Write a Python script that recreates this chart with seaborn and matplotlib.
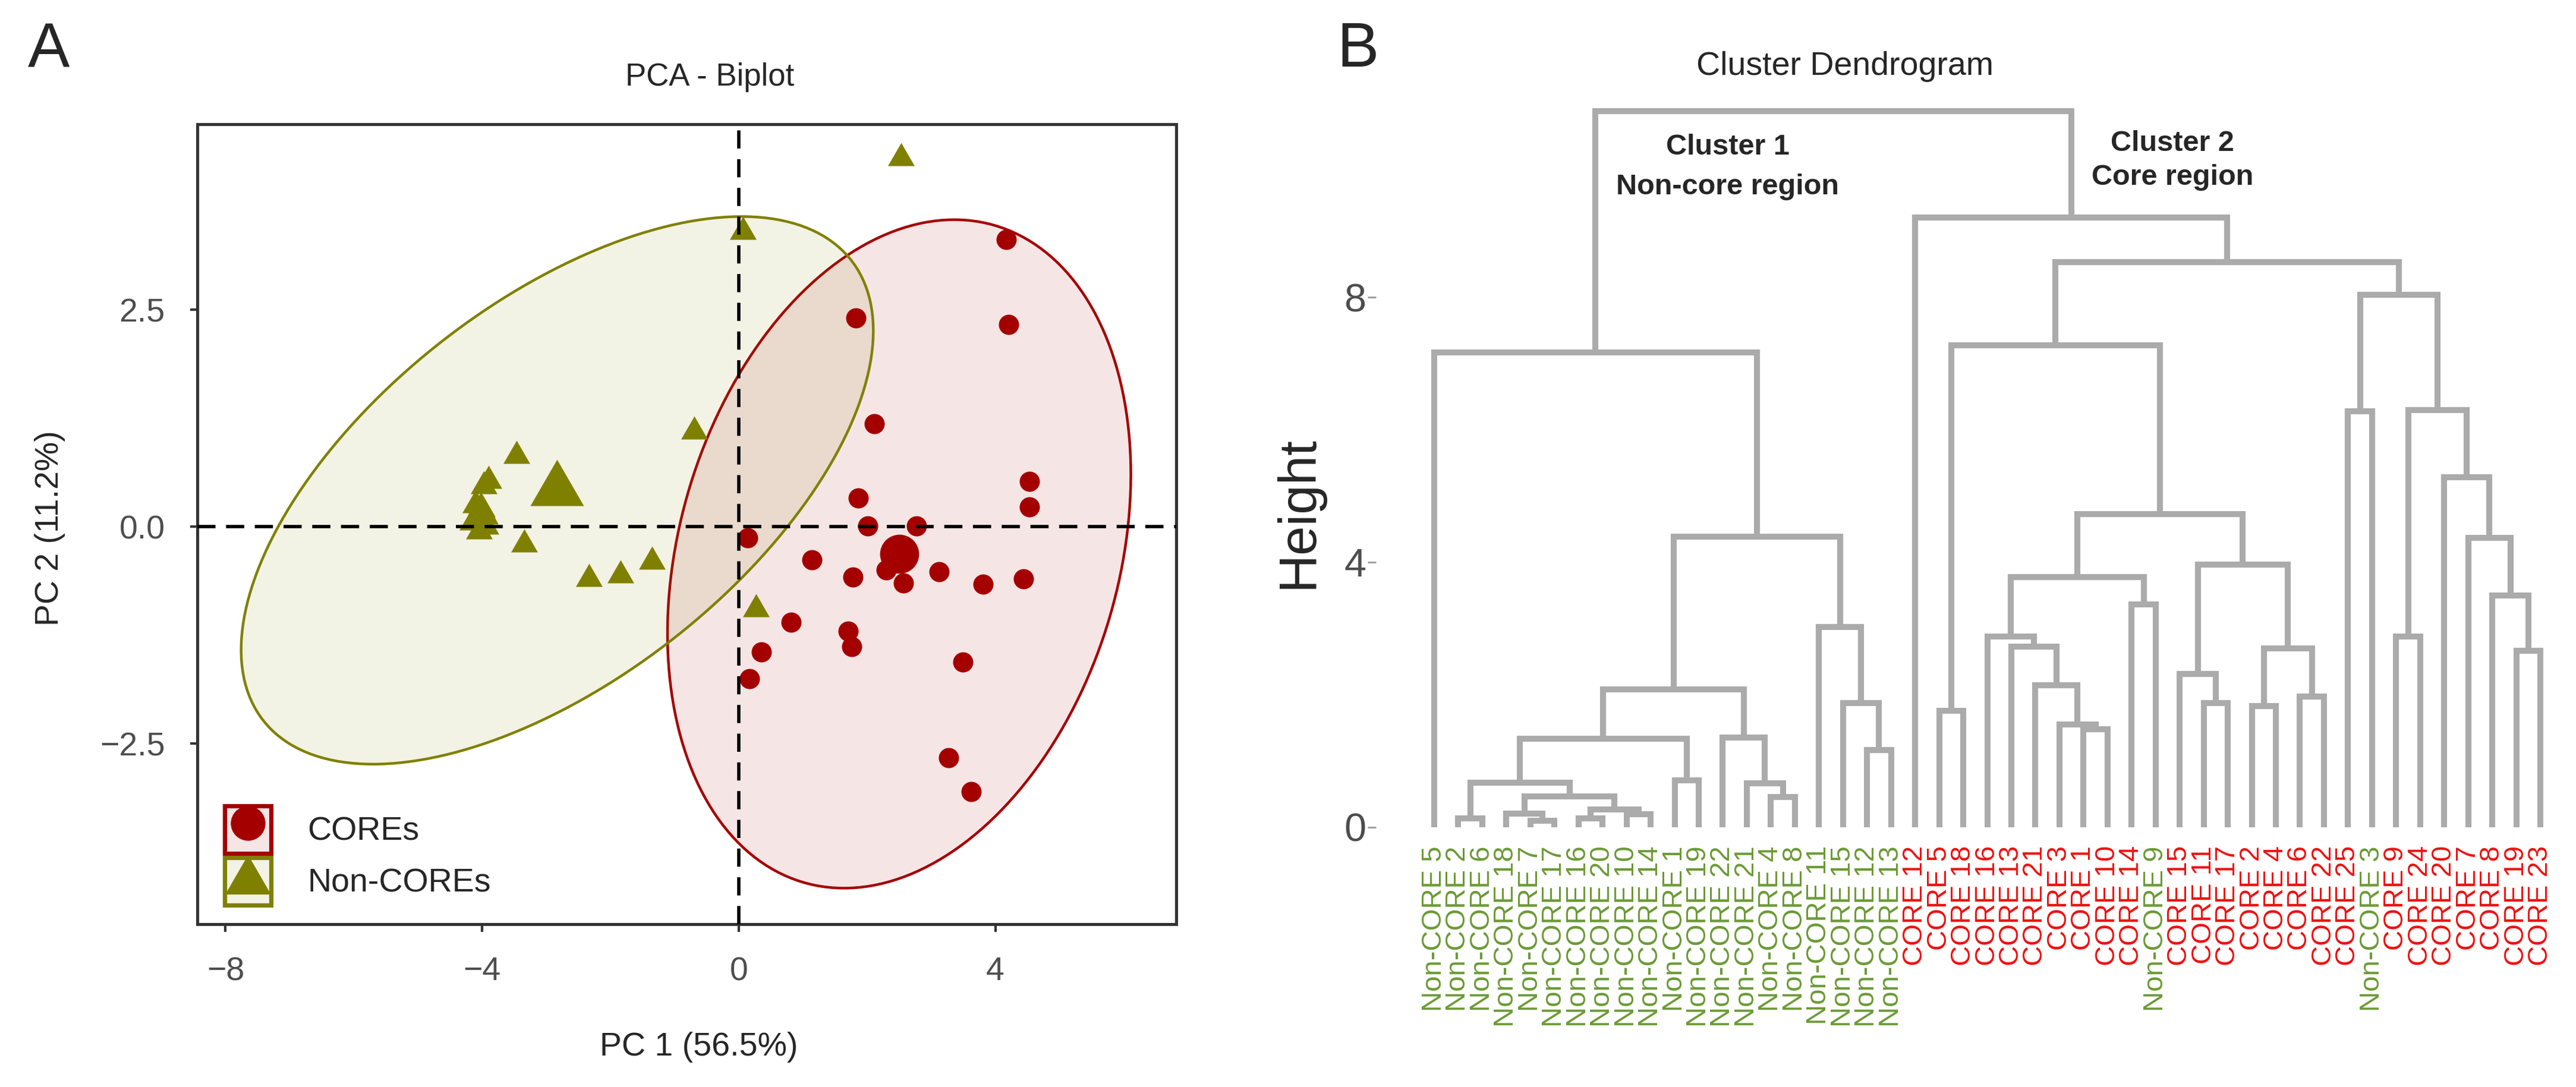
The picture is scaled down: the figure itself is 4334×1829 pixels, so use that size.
import numpy as np
import pandas as pd
import matplotlib
matplotlib.use("Agg")
import matplotlib.pyplot as plt
import seaborn as sns
from matplotlib.path import Path
from matplotlib.patches import Polygon, Patch
from matplotlib.lines import Line2D
from matplotlib.legend_handler import HandlerTuple
from matplotlib.colors import to_rgba

# ---------------- Panel A data (PCA scores) ----------------
core_pc1 = [4.17, 1.83, 4.21, 2.11, 4.53, 4.53, 1.86, 2.01, 2.77, 0.14, 1.14, 1.78, 2.30,
            2.57, 3.12, 3.81, 4.44, 0.82, 0.35, 0.17, 1.71, 1.76, 3.49, 3.27, 3.62]
core_pc2 = [3.31, 2.41, 2.33, 1.19, 0.52, 0.23, 0.33, 0.01, 0.01, -0.13, -0.38, -0.58, -0.50,
            -0.65, -0.52, -0.66, -0.60, -1.10, -1.44, -1.75, -1.20, -1.38, -1.56, -2.66, -3.05]
noncore_pc1 = [-3.46, -3.90, -3.97, -4.10, -4.15, -4.05, -3.95, -3.34, -2.33, -1.84, -1.35,
               2.53, 0.07, -0.69, 0.27, -4.00, -4.05, -3.98, -4.02, -3.96, -4.00, -3.99]
noncore_pc2 = [0.82, 0.53, 0.47, 0.25, 0.05, -0.05, 0.00, -0.20, -0.60, -0.56, -0.40,
               4.25, 3.40, 1.10, -0.95, 0.20, 0.10, 0.15, 0.22, 0.12, 0.18, 0.16]
group_names = ["COREs", "Non-COREs"]
x_ticks = [-8, -4, 0, 4]
y_ticks = [-2.5, 0.0, 2.5]

# ---------------- Panel B data (hierarchical clustering) ----------------
leaf_labels = [
    "Non-CORE 5", "Non-CORE 2", "Non-CORE 6", "Non-CORE 18", "Non-CORE 7", "Non-CORE 17",
    "Non-CORE 16", "Non-CORE 20", "Non-CORE 10", "Non-CORE 14", "Non-CORE 1", "Non-CORE 19",
    "Non-CORE 22", "Non-CORE 21", "Non-CORE 4", "Non-CORE 8", "Non-CORE 11", "Non-CORE 15",
    "Non-CORE 12", "Non-CORE 13",
    "CORE 12", "CORE 5", "CORE 18", "CORE 16", "CORE 13", "CORE 21", "CORE 3", "CORE 1",
    "CORE 10", "CORE 14", "Non-CORE 9", "CORE 15", "CORE 11", "CORE 17", "CORE 2", "CORE 4",
    "CORE 6", "CORE 22", "CORE 25", "Non-CORE 3", "CORE 9", "CORE 24", "CORE 20", "CORE 7",
    "CORE 8", "CORE 19", "CORE 23"]
# merges: (left, right, height); str = leaf, int = index of an earlier merge
merges = [
    ("Non-CORE 2", "Non-CORE 6", 0.13),   # 0
    ("Non-CORE 7", "Non-CORE 17", 0.10),  # 1
    ("Non-CORE 18", 1, 0.21),             # 2
    ("Non-CORE 16", "Non-CORE 20", 0.13), # 3
    ("Non-CORE 10", "Non-CORE 14", 0.20), # 4
    (3, 4, 0.27),                         # 5
    (2, 5, 0.47),                         # 6
    (0, 6, 0.67),                         # 7
    ("Non-CORE 1", "Non-CORE 19", 0.71),  # 8
    (7, 8, 1.34),                         # 9
    ("Non-CORE 4", "Non-CORE 8", 0.46),   # 10
    ("Non-CORE 21", 10, 0.66),            # 11
    ("Non-CORE 22", 11, 1.35),            # 12
    (9, 12, 2.08),                        # 13
    ("Non-CORE 12", "Non-CORE 13", 1.17), # 14
    ("Non-CORE 15", 14, 1.87),            # 15
    ("Non-CORE 11", 15, 3.02),            # 16
    (13, 16, 4.39),                       # 17
    ("Non-CORE 5", 17, 7.17),             # 18
    ("CORE 5", "CORE 18", 1.76),          # 19
    ("CORE 1", "CORE 10", 1.48),          # 20
    ("CORE 3", 20, 1.55),                 # 21
    ("CORE 21", 21, 2.14),                # 22
    ("CORE 13", 22, 2.73),                # 23
    ("CORE 16", 23, 2.88),                # 24
    ("CORE 14", "Non-CORE 9", 3.36),      # 25
    (24, 25, 3.78),                       # 26
    ("CORE 11", "CORE 17", 1.87),         # 27
    ("CORE 15", 27, 2.31),                # 28
    ("CORE 2", "CORE 4", 1.83),           # 29
    ("CORE 6", "CORE 22", 1.97),          # 30
    (29, 30, 2.70),                       # 31
    (28, 31, 3.96),                       # 32
    (26, 32, 4.73),                       # 33
    (19, 33, 7.27),                       # 34
    ("CORE 25", "Non-CORE 3", 6.28),      # 35
    ("CORE 9", "CORE 24", 2.88),          # 36
    ("CORE 19", "CORE 23", 2.66),         # 37
    ("CORE 8", 37, 3.50),                 # 38
    ("CORE 7", 38, 4.37),                 # 39
    ("CORE 20", 39, 5.28),                # 40
    (36, 40, 6.30),                       # 41
    (35, 41, 8.04),                       # 42
    (34, 42, 8.53),                       # 43
    ("CORE 12", 43, 9.20),                # 44
    (18, 44, 10.81),                      # 45
]
height_ticks = [0, 4, 8]

# ---------------- styling ----------------
sns.set_theme(style="white")
plt.rcParams['font.family'] = ['Liberation Sans', 'DejaVu Sans']
plt.rcParams['axes.unicode_minus'] = True

RED = "#A50000"
OLIVE = "#808000"
GREEN_LAB = "#6B9A35"
RED_LAB = "#EE1111"
DENDRO = "#ABABAB"
TICKC = "#4D4D4D"

W, H = 4334, 1829
fig = plt.figure(figsize=(W / 200, H / 200), dpi=200)
def fxp(px): return px / W
def fyp(py): return 1 - py / H

# ================= Panel A =================
axA = fig.add_axes([fxp(332), fyp(1555), (1979 - 332) / W, (1555 - 209) / H])

df = pd.DataFrame({
    "PC1": core_pc1 + noncore_pc1,
    "PC2": core_pc2 + noncore_pc2,
    "group": [group_names[0]] * len(core_pc1) + [group_names[1]] * len(noncore_pc1),
})
means = df.groupby("group", sort=False)[["PC1", "PC2"]].mean().reset_index()

# equilateral triangle centred on its centroid (plot) and on its box (legend key)
tri = Path([(0, 1), (-0.866, -0.5), (0.866, -0.5), (0, 1)],
           [Path.MOVETO, Path.LINETO, Path.LINETO, Path.CLOSEPOLY])
tri_key = Path([(0, 0.866), (-1, -0.866), (1, -0.866), (0, 0.866)],
               [Path.MOVETO, Path.LINETO, Path.LINETO, Path.CLOSEPOLY])

def ellipse_pts(x, y, level=0.95, npts=200):
    x = np.asarray(x); y = np.asarray(y)
    n = len(x)
    d2 = n - 1
    fq = (d2 / 2.0) * ((1 - level) ** (-2.0 / d2) - 1)   # F(2, n-1) quantile
    r = np.sqrt(2 * fq)
    cov = np.cov(np.vstack([x, y]))
    vals, vecs = np.linalg.eigh(cov)
    t = np.linspace(0, 2 * np.pi, npts)
    circ = np.vstack([np.cos(t), np.sin(t)])
    pts = vecs @ (np.sqrt(vals)[:, None] * circ) * r
    return np.column_stack([pts[0] + x.mean(), pts[1] + y.mean()])

colors = {group_names[0]: RED, group_names[1]: OLIVE}
for g in group_names:
    sub = df[df.group == g]
    e = ellipse_pts(sub.PC1, sub.PC2)
    axA.add_patch(Polygon(e, closed=True, facecolor=to_rgba(colors[g], 0.1),
                          edgecolor=colors[g], linewidth=1.6, zorder=1))

sns.scatterplot(data=df[df.group == group_names[0]], x="PC1", y="PC2", color=RED,
                marker="o", s=150, linewidth=0, ax=axA, zorder=3, legend=False)
sns.scatterplot(data=df[df.group == group_names[1]], x="PC1", y="PC2", color=OLIVE,
                marker=tri, s=350, linewidth=0, ax=axA, zorder=3, legend=False)
sns.scatterplot(data=means[means.group == group_names[0]], x="PC1", y="PC2", color=RED,
                marker="o", s=560, linewidth=0, ax=axA, zorder=3, legend=False)
sns.scatterplot(data=means[means.group == group_names[1]], x="PC1", y="PC2", color=OLIVE,
                marker=tri, s=1400, linewidth=0, ax=axA, zorder=3, legend=False)

axA.axhline(0, color="black", lw=2.0, dashes=(5.5, 3.2), zorder=5)
axA.axvline(0, color="black", lw=2.0, dashes=(5.5, 3.2), zorder=5)

axA.set_xlim(-8.44, 6.82)
axA.set_ylim(-4.58, 4.64)
axA.set_xticks(x_ticks)
axA.set_xticklabels([f"{v:d}".replace("-", "\u2212") for v in x_ticks])
axA.set_yticks(y_ticks)
axA.set_yticklabels([f"{v:.1f}".replace("-", "\u2212") for v in y_ticks])
axA.set_xlabel(""); axA.set_ylabel("")
axA.tick_params(axis="both", which="major", direction="out", length=4.5, width=1.5,
                color="#333333", labelsize=20, labelcolor=TICKC, pad=15,
                bottom=True, left=True, top=False, right=False)
for sp in axA.spines.values():
    sp.set_color("#333333"); sp.set_linewidth(1.8); sp.set_visible(True)
axA.grid(False)

handles = [
    (Patch(facecolor=to_rgba(RED, 0.1), edgecolor=RED, linewidth=2.6),
     Line2D([], [], marker="o", color=RED, markersize=20, linestyle="None")),
    (Patch(facecolor=to_rgba(OLIVE, 0.1), edgecolor=OLIVE, linewidth=2.6),
     Line2D([], [], marker=tri_key, color=OLIVE, markersize=26, linestyle="None")),
]
axA.legend(handles, group_names, handler_map={tuple: HandlerTuple(ndivide=1, pad=0)},
           loc="lower left", bbox_to_anchor=(0.028, 0.024), frameon=False, fontsize=20,
           handlelength=1.4, handleheight=1.84, handletextpad=1.1, labelspacing=0.12,
           borderpad=0, borderaxespad=0, numpoints=1)

fig.text(fxp(1194), fyp(130), "PCA - Biplot", ha="center", va="center", fontsize=19)
fig.text(fxp(1176), fyp(1762), "PC 1 (56.5%)", ha="center", va="center", fontsize=20)
fig.text(fxp(84), fyp(889), "PC 2 (11.2%)", ha="center", va="center", fontsize=20, rotation=90)
fig.text(fxp(82), fyp(85), "A", ha="center", va="center", fontsize=38)

# ================= Panel B =================
axB = fig.add_axes([fxp(2315), fyp(1400), (4300 - 2315) / W, (1400 - 150) / H])
pos = {lab: i for i, lab in enumerate(leaf_labels)}
node_x, node_h = [], []
def node(r):
    if isinstance(r, str):
        return pos[r], 0.0
    return node_x[r], node_h[r]
for a, b, h in merges:
    xa, ha = node(a)
    xb, hb = node(b)
    axB.plot([xa, xa, xb, xb], [ha, h, h, hb], color=DENDRO, lw=3.6,
             solid_joinstyle="miter", solid_capstyle="butt", zorder=2)
    node_x.append((xa + xb) / 2.0)
    node_h.append(h)

for i, lab in enumerate(leaf_labels):
    axB.text(i, -0.28, lab, rotation=90, ha="center", va="top", fontsize=17,
             color=GREEN_LAB if lab.startswith("Non") else RED_LAB, clip_on=False)

axB.set_xlim(-2.42, 46.64)
axB.set_ylim(-0.072, 11.14)
axB.set_xticks([])
axB.set_yticks(height_ticks)
axB.set_yticklabels([str(v) for v in height_ticks])
axB.tick_params(axis="y", direction="out", length=5, width=1.0, color="#999999",
                labelsize=24, labelcolor=TICKC, pad=1, left=True)
for sp in axB.spines.values():
    sp.set_visible(False)
axB.grid(False)

axB.text(12.2, 10.15, "Cluster 1", ha="center", va="baseline", fontsize=17.5, fontweight="bold")
axB.text(12.2, 9.55, "Non-core region", ha="center", va="baseline", fontsize=17.5, fontweight="bold")
axB.text(30.7, 10.21, "Cluster 2", ha="center", va="baseline", fontsize=17.5, fontweight="bold")
axB.text(30.7, 9.70, "Core region", ha="center", va="baseline", fontsize=17.5, fontweight="bold")

fig.text(fxp(3104), fyp(112), "Cluster Dendrogram", ha="center", va="center", fontsize=20)
fig.text(fxp(2185), fyp(862), "Height", ha="center", va="center", fontsize=32, rotation=90)
fig.text(fxp(2285), fyp(85), "B", ha="center", va="center", fontsize=38)

fig.savefig("out.png", dpi=200)
